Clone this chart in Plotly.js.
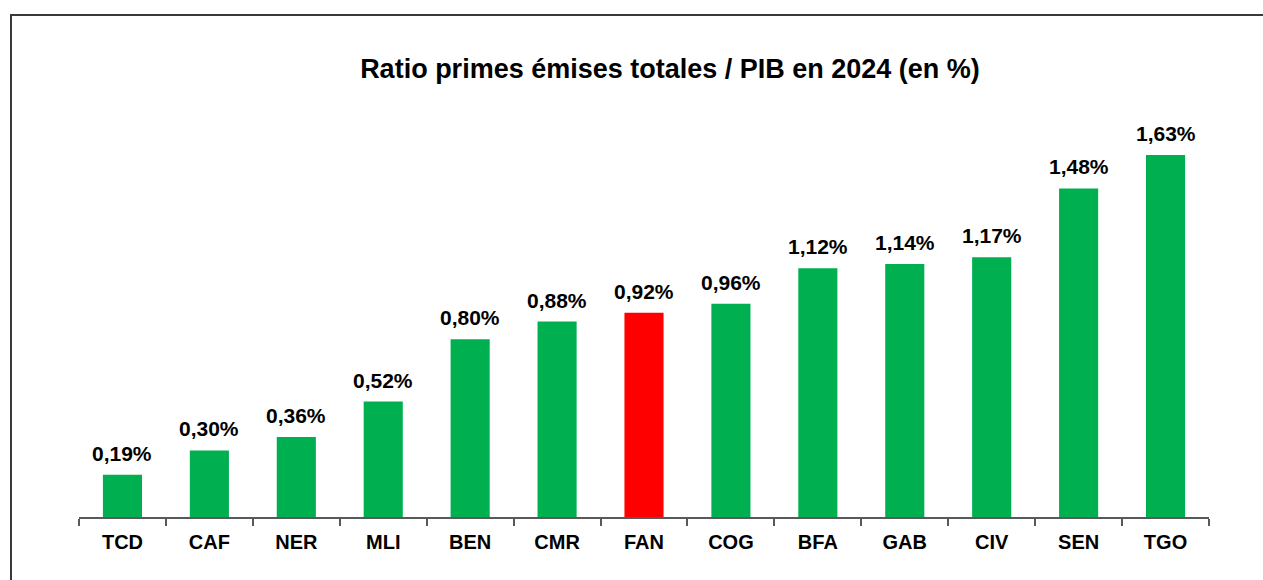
<!DOCTYPE html>
<html>
<head>
<meta charset="utf-8">
<script src="https://cdn.plot.ly/plotly-3.0.1.min.js"></script>
<style>
  body { margin: 0; background: #fff; }
  #plot { width: 1263px; height: 580px; }
  #frame { position: absolute; left: 10px; top: 14px; width: 1300px; height: 620px;
           border: 2px solid #3a3a3a; pointer-events: none; }
</style>
</head>
<body>
<div id="plot"></div>
<div id="frame"></div>
<script>
  // pays et ratio primes / PIB 2024 (%)
  const countries = ['TCD', 'CAF', 'NER', 'MLI', 'BEN', 'CMR', 'FAN', 'COG', 'BFA', 'GAB', 'CIV', 'SEN', 'TGO'];
  const ratios = [0.19, 0.30, 0.36, 0.52, 0.80, 0.88, 0.92, 0.96, 1.12, 1.14, 1.17, 1.48, 1.63];
  const highlight = 'FAN';

  const colors = countries.map(c => c === highlight ? '#FF0000' : '#00B050');
  const fmt = v => v.toFixed(2).replace('.', ',') + '%';

  const trace = {
    x: countries,
    y: ratios,
    type: 'bar',
    marker: { color: colors },
    hoverinfo: 'skip'
  };

  // valeurs au-dessus des barres
  const labels = countries.map((c, i) => ({
    x: c, y: ratios[i], text: '<b>' + fmt(ratios[i]) + '</b>',
    showarrow: false, yanchor: 'bottom', yshift: 8,
    font: { family: 'Liberation Sans, Arial, sans-serif', size: 21, color: '#000' }
  }));

  const layout = {
    width: 1263,
    height: 580,
    margin: { l: 79, r: 54, t: 120, b: 63 },
    paper_bgcolor: '#fff',
    plot_bgcolor: '#fff',
    bargap: 0.55,
    showlegend: false,
    font: { family: 'Liberation Sans, Arial, sans-serif', color: '#000' },
    title: {
      text: '<b>Ratio primes émises totales / PIB en 2024 (en %)</b>',
      font: { size: 27, color: '#000' },
      xref: 'container', x: 670 / 1263, xanchor: 'center',
      yref: 'container', y: 1 - 69 / 580, yanchor: 'middle'
    },
    xaxis: {
      type: 'category',
      tickvals: countries,
      ticktext: countries.map(c => '<b>' + c + '</b>'),
      showline: true, linecolor: '#595959', linewidth: 2,
      ticks: 'outside', tickson: 'boundaries', ticklen: 7, tickcolor: '#595959', tickwidth: 2,
      ticklabelstandoff: 6,
      tickfont: { size: 20, color: '#000' },
      showgrid: false, zeroline: false
    },
    yaxis: {
      range: [0, 1.788],
      visible: false,
      showgrid: false, zeroline: false
    },
    annotations: labels
  };

  Plotly.newPlot('plot', [trace], layout, { displayModeBar: false, staticPlot: true });
</script>
</body>
</html>
